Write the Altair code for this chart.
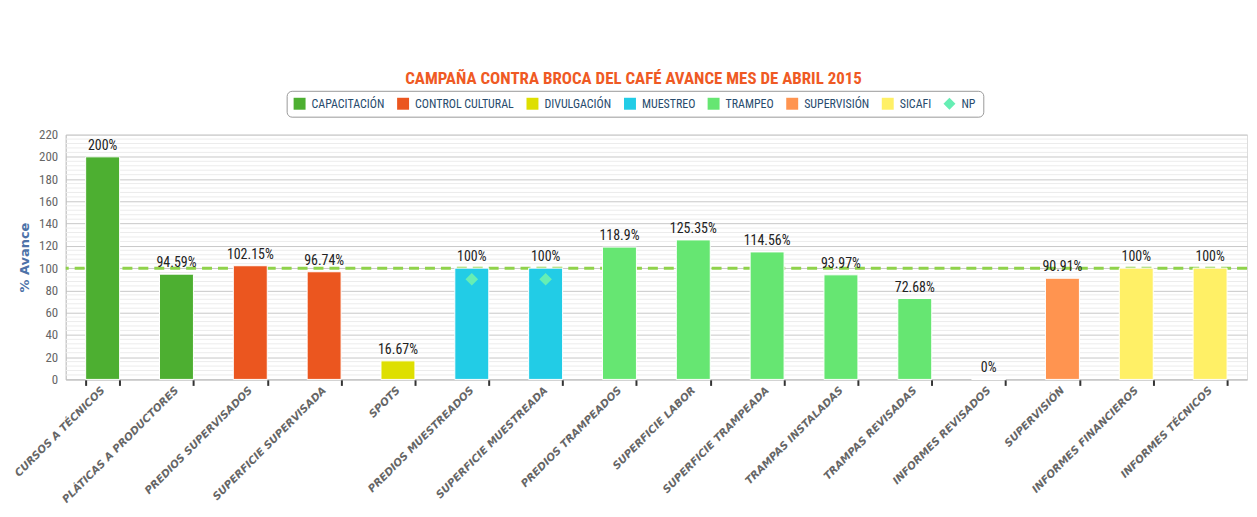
import altair as alt
import pandas as pd

categories = [
    "CURSOS A TÉCNICOS", "PLÁTICAS A PRODUCTORES", "PREDIOS SUPERVISADOS",
    "SUPERFICIE SUPERVISADA", "SPOTS", "PREDIOS MUESTREADOS",
    "SUPERFICIE MUESTREADA", "PREDIOS TRAMPEADOS", "SUPERFICIE LABOR",
    "SUPERFICIE TRAMPEADA", "TRAMPAS INSTALADAS", "TRAMPAS REVISADAS",
    "INFORMES REVISADOS", "SUPERVISIÓN", "INFORMES FINANCIEROS", "INFORMES TÉCNICOS",
]
values = [200, 94.59, 102.15, 96.74, 16.67, 100, 100, 118.9, 125.35, 114.56,
          93.97, 72.68, 0, 90.91, 100, 100]
groups = ["CAPACITACIÓN", "CAPACITACIÓN", "CONTROL CULTURAL", "CONTROL CULTURAL",
          "DIVULGACIÓN", "MUESTREO", "MUESTREO", "TRAMPEO", "TRAMPEO", "TRAMPEO",
          "TRAMPEO", "TRAMPEO", "SUPERVISIÓN", "SUPERVISIÓN", "SICAFI", "SICAFI"]

np_categories = ["PREDIOS MUESTREADOS", "SUPERFICIE MUESTREADA"]
np_values = [90, 90]

legend_names = ["CAPACITACIÓN", "CONTROL CULTURAL", "DIVULGACIÓN", "MUESTREO",
                "TRAMPEO", "SUPERVISIÓN", "SICAFI", "NP"]
legend_colors = ["#4daf31", "#eb561f", "#dedf00", "#22cce6", "#66e672",
                 "#ff9450", "#fff066", "#66eeb4"]
legend_shapes = ["square"] * 7 + ["diamond"]

y_major_ticks = list(range(0, 221, 20))
y_minor_ticks = [v for v in range(0, 221, 4) if v % 20 != 0]

target = 100

NARROW = "Liberation Sans Narrow, Roboto Condensed, DejaVu Sans Condensed, Arial Narrow, sans-serif"

df = pd.DataFrame({"cat": categories, "val": values, "grp": groups})
df_np = pd.DataFrame({"cat": np_categories, "val": np_values, "grp": ["NP"] * len(np_categories)})
df_minor = pd.DataFrame({"m": y_minor_ticks})

x_enc = alt.X(
    "cat:N", sort=categories, title=None,
    scale=alt.Scale(paddingInner=0.54, paddingOuter=0.27),
    axis=alt.Axis(
        labelAngle=-45, labelAlign="right", labelBaseline="middle",
        labelFontStyle="italic", labelFontWeight="bold",
        labelColor="#666666", labelFontSize=10.5, labelFont="DejaVu Sans, sans-serif",
        labelPadding=3, tickBand="extent", tickColor="#333333", tickSize=6, tickWidth=2,
        domainColor="#c0c0c0", labelLimit=300, labelOverlap=False,
    ),
)
y_scale = alt.Scale(domain=[0, 220], nice=False)
y_axis = alt.Axis(
    values=y_major_ticks, gridColor="#c8c8c8", labelOverlap=False, tickCount=12,
    ticks=False, domainColor="#c0c0c0", labelColor="#666666", labelFontSize=13,
    labelFont=NARROW, labelPadding=8,
    titleColor="#4d72a8", titleFontSize=13, titleFontWeight="bold",
    titleFont="DejaVu Sans, sans-serif", titlePadding=7,
)
color_scale = alt.Scale(domain=legend_names, range=legend_colors)
shape_scale = alt.Scale(domain=legend_names, range=legend_shapes)

legend = alt.Legend(
    orient="none", legendX=222, legendY=-44, direction="horizontal", columns=8,
    labelFont=NARROW, labelFontSize=12, labelColor="#274b6d",
    symbolSize=144, symbolStrokeWidth=0,
    labelOffset=6, columnPadding=12, padding=7,
    strokeColor="#999999", fillColor="white", cornerRadius=5,
)

minor = alt.Chart(df_minor).mark_rule(color="#ececec", strokeWidth=1).encode(
    y=alt.Y("m:Q", scale=y_scale, axis=y_axis, title="% Avance")
)

rule = alt.Chart(pd.DataFrame({"t": [target]})).mark_rule(
    color="#8fd24a", strokeWidth=3, strokeDash=[10, 6]
).encode(y=alt.Y("t:Q", scale=y_scale, axis=y_axis, title="% Avance"))

bars = alt.Chart(df).mark_bar(stroke="white", strokeWidth=1).encode(
    x=x_enc, y=alt.Y("val:Q", scale=y_scale, axis=y_axis, title="% Avance"),
    color=alt.Color("grp:N", scale=color_scale, legend=None),
)

labels = alt.Chart(df).transform_calculate(
    lbl="datum.val + '%'"
).mark_text(baseline="bottom", dy=-4, font=NARROW, fontSize=14, color="#222222").encode(
    x=alt.X("cat:N", sort=categories),
    y=alt.Y("val:Q", scale=y_scale, axis=y_axis, title="% Avance"), text="lbl:N"
)

points = alt.Chart(df_np).mark_point(filled=True, size=160, opacity=1).encode(
    x=alt.X("cat:N", sort=categories),
    y=alt.Y("val:Q", scale=y_scale, axis=y_axis, title="% Avance"),
    color=alt.Color("grp:N", scale=color_scale, title=None, legend=legend),
    shape=alt.Shape("grp:N", scale=shape_scale, title=None, legend=legend),
)

chart = alt.layer(minor, rule, bars, labels, points).resolve_legend(
    color="independent", shape="independent"
).properties(
    width=1187, height=246,
    autosize=alt.AutoSizeParams(type="none"),
    padding={"left": 58, "top": 126, "right": 2, "bottom": 128},
    title=alt.TitleParams(
        "CAMPAÑA CONTRA BROCA DEL CAFÉ AVANCE MES DE ABRIL 2015",
        color="#ef5a24", font=NARROW, fontSize=17, fontWeight="bold",
        anchor="middle", frame="group", offset=32, dx=-23, dy=47, baseline="bottom",
    ),
).configure_view(stroke=None).configure(background="white")

chart.save("out.html", embed_options={"renderer": "svg", "actions": False})
